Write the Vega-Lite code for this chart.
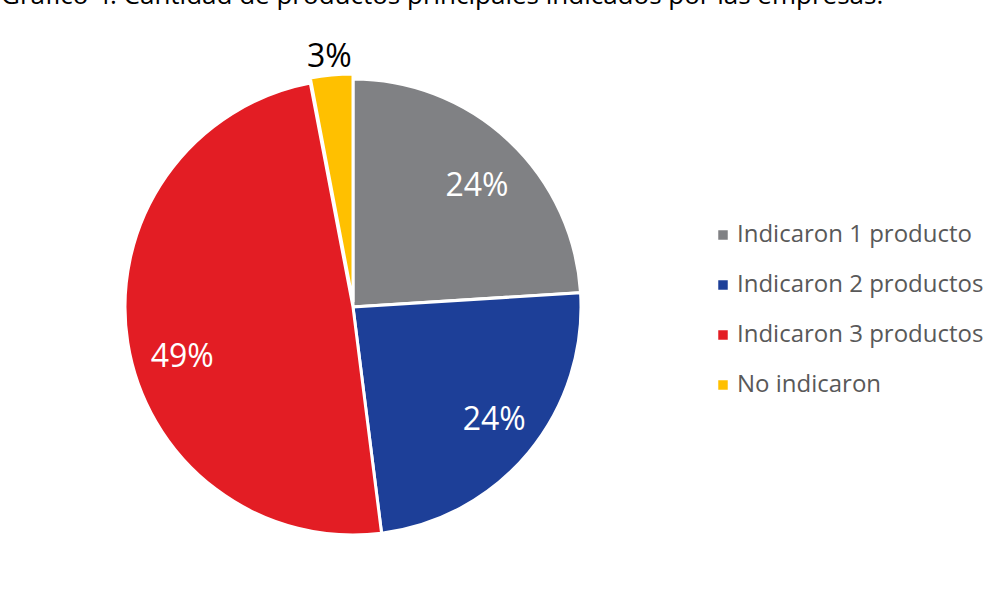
{
  "$schema": "https://vega.github.io/schema/vega-lite/v6.json",
  "autosize": {"type": "none"},
  "padding": {"left": 8, "top": 13, "right": 299, "bottom": 0},
  "width": 690,
  "height": 588,
  "background": "white",
  "title": {
    "text": "Gráfico 4. Cantidad de productos principales indicados por las empresas.",
    "anchor": "start",
    "orient": "top",
    "font": "Open Sans",
    "fontSize": 26,
    "fontWeight": "normal",
    "color": "#000000",
    "baseline": "alphabetic",
    "offset": 6,
    "dx": -7,
    "dy": 23,
    "limit": 1000
  },
  "config": {"view": {"stroke": null}},
  "data": {
    "values": [
      {"categoria": "Indicaron 1 producto", "porcentaje": 24, "etiqueta": "24%"},
      {"categoria": "Indicaron 2 productos", "porcentaje": 24, "etiqueta": "24%"},
      {"categoria": "Indicaron 3 productos", "porcentaje": 49, "etiqueta": "49%"},
      {"categoria": "No indicaron", "porcentaje": 3, "etiqueta": "3%"}
    ]
  },
  "encoding": {
    "theta": {"field": "porcentaje", "type": "quantitative", "stack": true},
    "order": {"field": "categoria", "type": "nominal", "sort": "ascending"}
  },
  "layer": [
    {
      "mark": {"type": "arc", "radius": 228, "stroke": "white", "strokeWidth": 3},
      "encoding": {
        "color": {
          "field": "categoria",
          "type": "nominal",
          "scale": {
            "domain": ["Indicaron 1 producto", "Indicaron 2 productos", "Indicaron 3 productos", "No indicaron"],
            "range": ["#808184", "#1D3F98", "#E31D24", "#FFC000"]
          },
          "legend": {
            "orient": "none",
            "legendX": 703,
            "legendY": 210,
            "title": null,
            "symbolType": "square",
            "symbolSize": 90,
            "symbolStrokeWidth": 0,
            "labelFont": "Open Sans",
            "labelFontSize": 24,
            "labelColor": "#595959",
            "labelOffset": 2,
            "rowPadding": 26,
            "labelLimit": 400
          }
        },
        "opacity": {
          "condition": {"test": "datum.categoria === 'No indicaron'", "value": 0},
          "value": 1
        }
      }
    },
    {
      "mark": {"type": "arc", "radius": 228, "stroke": "white", "strokeWidth": 3, "yOffset": -5},
      "encoding": {
        "color": {"field": "categoria", "type": "nominal"},
        "opacity": {
          "condition": {"test": "datum.categoria === 'No indicaron'", "value": 1},
          "value": 0
        }
      }
    },
    {
      "mark": {"type": "text", "radius": 173, "thetaOffset": 0.045, "font": "Open Sans", "fontSize": 32, "align": "center", "baseline": "middle"},
      "encoding": {
        "text": {"field": "etiqueta", "type": "nominal"},
        "color": {"value": "white"},
        "opacity": {
          "condition": {"test": "datum.categoria === 'Indicaron 1 producto'", "value": 1},
          "value": 0
        }
      }
    },
    {
      "mark": {"type": "text", "radius": 181, "thetaOffset": -0.015, "font": "Open Sans", "fontSize": 32, "align": "center", "baseline": "middle"},
      "encoding": {
        "text": {"field": "etiqueta", "type": "nominal"},
        "color": {"value": "white"},
        "opacity": {
          "condition": {"test": "datum.categoria === 'Indicaron 2 productos'", "value": 1},
          "value": 0
        }
      }
    },
    {
      "mark": {"type": "text", "radius": 178, "thetaOffset": -0.128, "font": "Open Sans", "fontSize": 32, "align": "center", "baseline": "middle"},
      "encoding": {
        "text": {"field": "etiqueta", "type": "nominal"},
        "color": {"value": "white"},
        "opacity": {
          "condition": {"test": "datum.categoria === 'Indicaron 3 productos'", "value": 1},
          "value": 0
        }
      }
    },
    {
      "mark": {"type": "text", "radius": 251, "font": "Open Sans", "fontSize": 32, "align": "center", "baseline": "middle"},
      "encoding": {
        "text": {"field": "etiqueta", "type": "nominal"},
        "color": {"value": "#000000"},
        "opacity": {
          "condition": {"test": "datum.categoria === 'No indicaron'", "value": 1},
          "value": 0
        }
      }
    }
  ]
}
